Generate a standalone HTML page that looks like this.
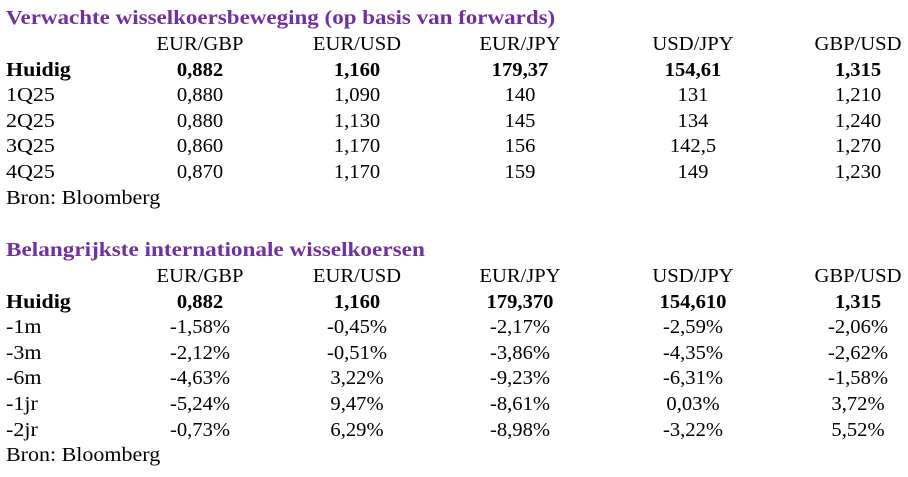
<!DOCTYPE html>
<html><head><meta charset="utf-8"><style>
body{margin:0;width:908px;height:477px;background:#fff;overflow:hidden;position:relative;font-family:"Liberation Serif",serif;font-size:20px;color:#000}
.t{position:absolute;white-space:nowrap;line-height:24px;transform-origin:0 0;transform:scaleX(1.1)}
.c{position:absolute;white-space:nowrap;line-height:24px;transform:translateX(-50%) scaleX(1.03)}
.h{color:#7030A0;font-weight:bold;transform:scaleX(1.15)}
.b{font-weight:bold}
</style></head><body>
<div class="t h" style="left:6px;top:6px">Verwachte wisselkoersbeweging (op basis van forwards)</div>
<div class="t h" style="left:6px;top:238px;transform:scaleX(1.16)">Belangrijkste internationale wisselkoersen</div>
<script>
const cols=[200,357,520,693,858];
function tbl(top,rows){
 let y=top;
 for(const r of rows){
  const bold=r[0]==='Huidig';
  if(r[0]!==null){const d=document.createElement('div');d.className='t'+(bold?' b':'');d.style.left='6px';d.style.top=y+'px';d.textContent=r[0];document.body.appendChild(d);}
  for(let i=1;i<r.length;i++){const d=document.createElement('div');d.className='c'+(bold?' b':'');d.style.left=cols[i-1]+'px';d.style.top=y+'px';d.textContent=r[i];document.body.appendChild(d);}
  y+=25.6;
 }
}
tbl(32,[[null,'EUR/GBP','EUR/USD','EUR/JPY','USD/JPY','GBP/USD'],
['Huidig','0,882','1,160','179,37','154,61','1,315'],
['1Q25','0,880','1,090','140','131','1,210'],
['2Q25','0,880','1,130','145','134','1,240'],
['3Q25','0,860','1,170','156','142,5','1,270'],
['4Q25','0,870','1,170','159','149','1,230'],
['Bron: Bloomberg']]);
tbl(264,[[null,'EUR/GBP','EUR/USD','EUR/JPY','USD/JPY','GBP/USD'],
['Huidig','0,882','1,160','179,370','154,610','1,315'],
['-1m','-1,58%','-0,45%','-2,17%','-2,59%','-2,06%'],
['-3m','-2,12%','-0,51%','-3,86%','-4,35%','-2,62%'],
['-6m','-4,63%','3,22%','-9,23%','-6,31%','-1,58%'],
['-1jr','-5,24%','9,47%','-8,61%','0,03%','3,72%'],
['-2jr','-0,73%','6,29%','-8,98%','-3,22%','5,52%'],
['Bron: Bloomberg']]);
</script>
</body></html>
